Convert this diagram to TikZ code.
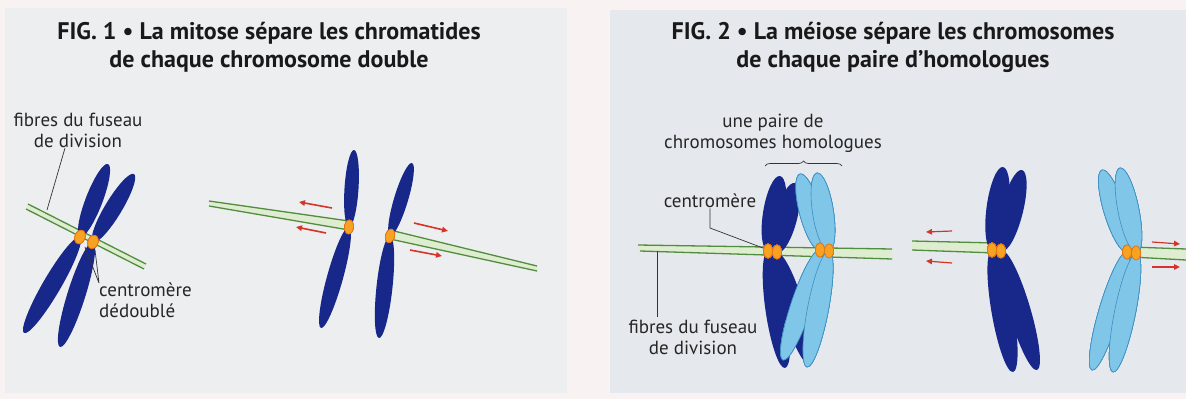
\documentclass[tikz,border=0pt]{standalone}
\usepackage{fontspec}
\setmainfont{PT Sans}
\usetikzlibrary{arrows.meta,decorations.pathreplacing}

\definecolor{navy}{RGB}{24,40,138}
\definecolor{sky}{RGB}{128,198,233}
\definecolor{skyline}{RGB}{62,142,192}
\definecolor{fibreline}{RGB}{82,140,62}
\definecolor{fibrefill}{RGB}{222,237,208}
\definecolor{centro}{RGB}{247,162,32}
\definecolor{centroline}{RGB}{226,112,22}
\definecolor{pull}{RGB}{214,52,40}
\definecolor{paper}{RGB}{248,243,242}
\definecolor{panelA}{RGB}{237,238,240}
\definecolor{panelB}{RGB}{229,233,238}

% one arm of a chromatid: half width, centromere x/y, tip x/y
\newcommand\arm[6][darkarm]{%
  \pgfmathsetmacro\armx{(#3+#5)/2}%
  \pgfmathsetmacro\army{(#4+#6)/2}%
  \pgfmathsetmacro\armlen{veclen(#5-#3,#6-#4)/2}%
  \pgfmathsetmacro\armang{atan2(#4-#6,#5-#3)}%
  \path[#1,rotate around={\armang:(\armx,\army)}] (\armx,\army) ellipse ({\armlen pt} and #2);%
}
% a fibre bundle: upper line and lower line
\newcommand\fibre[8]{%
  \fill[fibrefill] (#1,#2) -- (#3,#4) -- (#7,#8) -- (#5,#6) -- cycle;
  \draw[fibreline,line width=1.3pt] (#1,#2) -- (#3,#4) (#5,#6) -- (#7,#8);
}

\begin{document}
\begin{tikzpicture}[x=1pt,y=-1pt,
  darkarm/.style={fill=navy},
  lightarm/.style={fill=sky,draw=skyline,line width=0.6pt},
  blob/.style={fill=centro,draw=centroline,line width=0.6pt},
  lead/.style={draw=black!80,line width=0.7pt},
  pullarrow/.style={draw=pull,line width=1.6pt,-{Triangle[length=6pt,width=5.5pt]}},
  title/.style={font=\bfseries\fontsize{24}{28}\selectfont,align=center,inner sep=0pt,text=black!90},
  label/.style={font=\fontsize{19}{21}\selectfont,align=center,inner sep=0pt,text=black!85}]
\useasboundingbox (0,0) rectangle (1186,399);
\fill[paper] (0,0) rectangle (1186,399);
\fill[panelA] (5,8) rectangle (567,393);
\fill[panelB] (610,10) rectangle (1186,393);

%%% FIG. 1
\node[title,anchor=north] (t1) at (269,22) {FIG. 1 • La mitose sépare les chromatides\\de chaque chromosome double};

% chromosome double
\fibre{28}{204}{146}{264}{26}{209}{144}{269}
\foreach \w/\cx/\cy/\tx/\ty in {8.5pt/80/237/108/164, 9pt/80/237/24/333,
                               8.5pt/93/242/134/174, 9pt/93/242/60/347}
  \arm{\w}{\cx}{\cy}{\tx}{\ty}
\foreach \cx/\cy in {80/237, 93/242}
  \fill[blob,rotate around={-20:(\cx,\cy)}] (\cx,\cy) ellipse (5pt and 7pt);

\node[label,anchor=north] (fib1) at (78,113) {fibres du fuseau\\de division};
\coordinate (fib1end) at (47,210);
\draw[lead] ([xshift=-13pt]fib1.south) -- (fib1end);
\node[label,align=left,anchor=north west] (cen1) at (99,283) {centromère\\dédoublé};
\coordinate (ca) at (85,247);
\coordinate (cb) at (95,250);
\draw[lead] (cen1.north west) -- (ca) (cen1.north west) -- (cb);

% chromatides separees
\fibre{209}{201}{349}{221}{209}{206}{349}{230}
\fibre{390}{230}{537}{266}{390}{239}{537}{271}
\foreach \w/\cx/\cy/\tx/\ty in {7pt/349/227/354/150, 8pt/349/227/321/328,
                               7pt/390/236/412/163, 8pt/390/236/379/338}
  \arm{\w}{\cx}{\cy}{\tx}{\ty}
\foreach \cx/\cy/\r in {349/227/-5, 390/236/-15}
  \fill[blob,rotate around={\r:(\cx,\cy)}] (\cx,\cy) ellipse (4.5pt and 7pt);
\foreach \ax/\ay/\bx/\by in {332/208/299/202, 326/233/296/227,
                             414/223/448/231, 410/250/442/256}
  \draw[pullarrow] (\ax,\ay) -- (\bx,\by);

%%% FIG. 2
\node[title,anchor=north] (t2) at (893,22) {FIG. 2 • La méiose sépare les chromosomes\\de chaque paire d’homologues};

% paire d'homologues
\fibre{638}{245}{892}{249}{640}{251}{892}{259}
\foreach \cx/\cy/\tx/\ty in {768/251/780/176, 768/251/785/368,
                             777/253/795/183, 777/253/810/365}
  \arm{11pt}{\cx}{\cy}{\tx}{\ty}
\foreach \cx/\cy/\tx/\ty in {820/250/800/174, 820/250/783/360,
                             829/251/817/173, 829/251/807/367}
  \arm[lightarm]{10.5pt}{\cx}{\cy}{\tx}{\ty}
\foreach \cx/\cy in {768/251, 777/252, 820/250, 829/251}
  \fill[blob] (\cx,\cy) ellipse (4.5pt and 7pt);

\node[label,anchor=north] (pair2) at (773,114) {une paire de\\chromosomes homologues};
\draw[lead,decorate,decoration={brace,amplitude=5pt}] (765,166) -- (842,166);
\node[label,anchor=north] (cen2) at (710,194) {centromère};
\coordinate (cenbend) at (710,228);
\coordinate (cd) at (763,248);
\draw[lead] (cen2.south) -- (cenbend) -- (cd);
\node[label,anchor=north] (fib2) at (693,320) {fibres du fuseau\\de division};
\coordinate (fib2end) at (657,251);
\draw[lead] ([yshift=3pt]fib2end |- fib2.north) -- (fib2end);

% homologues separes
\fibre{912}{241}{996}{243}{912}{250}{996}{253}
\fibre{1132}{247}{1186}{249}{1132}{257}{1186}{260}
\foreach \cx/\cy/\tx/\ty in {992/250/1003/167, 992/250/1013/372,
                             1002/251/1022/170, 1002/251/1037/370}
  \arm{11pt}{\cx}{\cy}{\tx}{\ty}
\foreach \cx/\cy/\tx/\ty in {1127/252/1102/170, 1127/252/1092/370,
                             1137/253/1120/168, 1137/253/1113/372}
  \arm[lightarm]{10.5pt}{\cx}{\cy}{\tx}{\ty}
\foreach \cx/\cy in {992/250, 1001/251, 1127/252, 1136/253}
  \fill[blob] (\cx,\cy) ellipse (4.5pt and 7pt);
\foreach \ax/\ay/\bx/\by in {952/231/926/232, 952/263/926/261,
                             1152/242/1180/244, 1152/267/1180/267}
  \draw[pullarrow,line width=1.2pt] (\ax,\ay) -- (\bx,\by);
\end{tikzpicture}
\end{document}
